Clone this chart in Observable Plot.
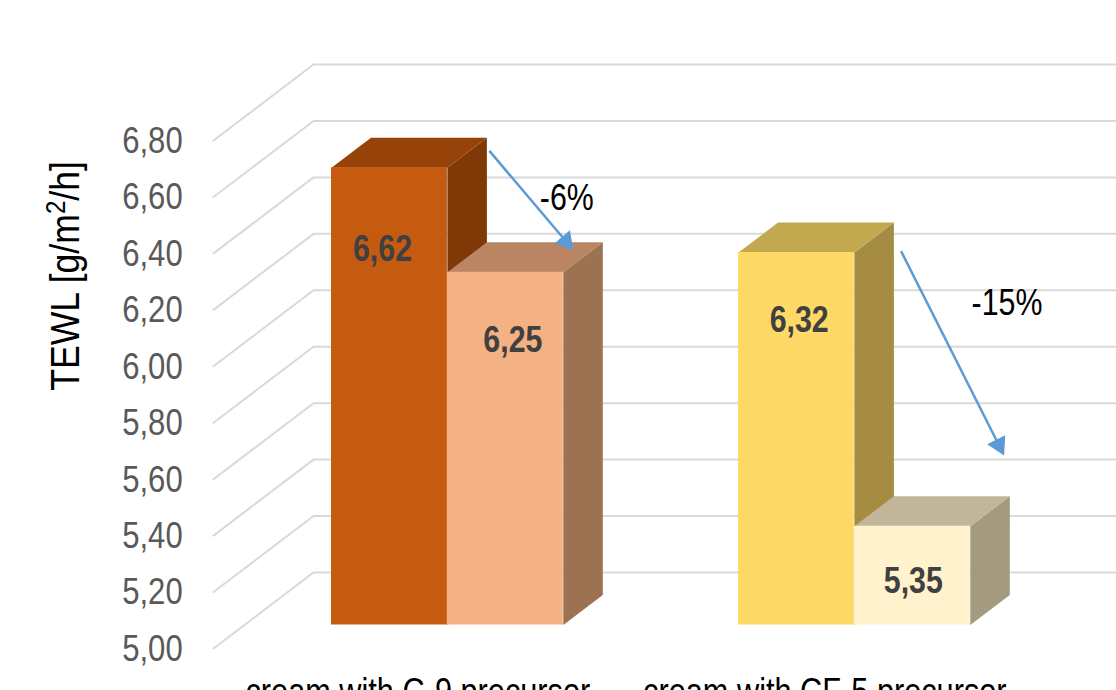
<!DOCTYPE html>
<html>
<head>
<meta charset="utf-8">
<style>
  html, body { margin: 0; padding: 0; background: #fff; overflow: hidden; }
  svg { display: block; }
</style>
<script src="https://cdn.jsdelivr.net/npm/d3@7"></script>
<script src="https://cdn.jsdelivr.net/npm/@observablehq/plot@0.6"></script>
</head>
<body>
<script>
// TEWL per cream, before and after treatment
const categories = ["cream with C-9 precursor", "cream with CF-5 precursor"];
const barValues = [[6.62, 6.25], [6.32, 5.35]];
const barLabels = [["6,62", "6,25"], ["6,32", "5,35"]];
const changeLabels = ["-6%", "-15%"];
const tickValues = [5, 5.2, 5.4, 5.6, 5.8, 6, 6.2, 6.4, 6.6, 6.8];
const tickLabels = ["5,00", "5,20", "5,40", "5,60", "5,80", "6,00", "6,20", "6,40", "6,60", "6,80"];
const axisTitle = "TEWL [g/m2/h]";

// Face colours: front, top, side
const faceColors = [
  [["#c55a11", "#964209", "#7e3907"], ["#f4b183", "#ba8562", "#9c7253"]],
  [["#ffd966", "#c2a84e", "#a58c42"], ["#fff2cc", "#c1b699", "#a39a80"]]
];

// Scale geometry: x is measured in bar widths, y in TEWL units.
const pxX = 115.9, pxY = 282.2;
const depthX = 39.5 / pxX, depthY = 30 / pxY;
const groupStep = 407 / pxX;
const wallX = -18 / pxX, wallY = 52.5 / pxY;
const frontX = -118 / pxX, frontY = -23.5 / pxY;
const rightEdge = 7;
const floorValue = 5;

const textStyle = { fontFamily: "'Liberation Sans', Arial, sans-serif", fontSize: 37, dy: -0.5 };

// Floor-to-wall grid lines
const grid = tickValues.flatMap((v) => [
  { id: v, x: frontX, y: v + frontY },
  { id: v, x: wallX, y: v + wallY },
  { id: v, x: rightEdge, y: v + wallY }
]);

// One cuboid per bar, painted left to right so later bars overlap earlier ones
const barMarks = barValues.flatMap((pair, g) => pair.flatMap((v, s) => {
  const x1 = g * groupStep + s, x2 = x1 + 1;
  const [front, top, side] = faceColors[g][s];
  const sideFace = [
    { x: x2, y: floorValue }, { x: x2 + depthX, y: floorValue + depthY },
    { x: x2 + depthX, y: v + depthY }, { x: x2, y: v }
  ];
  const topFace = [
    { x: x1, y: v }, { x: x2, y: v },
    { x: x2 + depthX, y: v + depthY }, { x: x1 + depthX, y: v + depthY }
  ];
  return [
    Plot.line(sideFace, { x: "x", y: "y", fill: side, stroke: "none" }),
    Plot.line(topFace, { x: "x", y: "y", fill: top, stroke: "none" }),
    Plot.rect([v], { x1: x1, x2: x2, y1: floorValue, y2: v, fill: front, inset: 0 })
  ];
}));

// Where the value labels sit inside the bars
const labelPlaces = [
  [{ x: 0.44, y: 6.33 }, { x: 1.565, y: 6.006 }],
  [{ x: 4.035, y: 6.077 }, { x: 5.02, y: 5.152 }]
];
const labelRows = barLabels.flatMap((pair, g) =>
  pair.map((text, s) => ({ text, ...labelPlaces[g][s] })));

// Change arrows between the two bars of each group
const arrowPlaces = [
  { x1: 1.362, y1: 6.68, x2: 2.086, y2: 6.329 },
  { x1: 4.914, y1: 6.325, x2: 5.802, y2: 5.602 }
];
const headLength = 17;
const arrows = arrowPlaces.map((a) => {
  const dx = (a.x2 - a.x1) * pxX, dy = (a.y1 - a.y2) * pxY;
  const len = Math.hypot(dx, dy);
  const back = headLength * 2 / 3;
  return {
    ...a,
    hx: a.x2 - (dx / len) * back / pxX,
    hy: a.y2 + (dy / len) * back / pxY,
    angle: (Math.atan2(dx, -dy) * 180) / Math.PI
  };
});
const changePlaces = [{ x: 2.03, y: 6.51 }, { x: 5.828, y: 6.137 }];
const changeRows = changeLabels.map((text, i) => ({ text, ...changePlaces[i] }));

const tickRows = tickValues.map((v, i) => ({ y: v + frontY, text: tickLabels[i] }));
const categoryRows = categories.map((text, i) => ({ text, x: 0.745 + i * groupStep }));

const chart = Plot.plot({
  width: 1116,
  height: 690,
  margin: 0,
  style: { background: "#fff", overflow: "hidden" },
  x: { domain: [0, groupStep], range: [331, 738], axis: null },
  y: { domain: [5, 6.8], range: [624.5, 624.5 - 1.8 * pxY], axis: null },
  marks: [
    Plot.line(grid, { x: "x", y: "y", z: "id", stroke: "#d9d9d9", strokeWidth: 2 }),
    ...barMarks,
    Plot.text(labelRows, { x: "x", y: "y", text: "text", ...textStyle, fontWeight: "bold", fill: "#404040", className: "narrow-82" }),
    Plot.text(tickRows, { x: -1.284, y: "y", text: "text", textAnchor: "end", ...textStyle, dy: 0.5, fill: "#595959", className: "narrow-84" }),
    Plot.text(categoryRows, { x: "x", y: 4.76, text: "text", ...textStyle, fill: "#000", className: "narrow-83" }),
    Plot.text([axisTitle], { x: -2.293, y: 6.235, text: (d) => d, rotate: -90, ...textStyle, fontSize: 40, fill: "#000", className: "axis-title" }),
    Plot.link(arrows, { x1: "x1", y1: "y1", x2: "hx", y2: "hy", stroke: "#5b9bd5", strokeWidth: 2.5 }),
    Plot.dot(arrows, { x: "hx", y: "hy", symbol: "triangle", r: 7.5, rotate: "angle", fill: "#5b9bd5", stroke: "none" }),
    Plot.text(changeRows, { x: "x", y: "y", text: "text", ...textStyle, fill: "#000", className: "narrow-82" })
  ]
});
document.body.appendChild(chart);

// Raise the exponent in the unit of the axis title
d3.select(chart).selectAll(".axis-title text").each(function () {
  const text = d3.select(this);
  text.text(null);
  text.append("tspan").text("TEWL [g/m");
  text.append("tspan").attr("dy", -14).attr("font-size", 27).text("2");
  text.append("tspan").attr("dy", 14).text("/h]");
});

// The typeface is set condensed throughout, so squeeze each text horizontally
const squeeze = (selector, factor) =>
  d3.select(chart).selectAll(`${selector} text`).each(function () {
    this.setAttribute("lengthAdjust", "spacingAndGlyphs");
    this.setAttribute("textLength", this.getComputedTextLength() * factor);
  });
squeeze(".narrow-82", 0.82);
squeeze(".narrow-83", 0.83);
squeeze(".narrow-84", 0.84);
squeeze(".axis-title", 0.89);
</script>
</body>
</html>
